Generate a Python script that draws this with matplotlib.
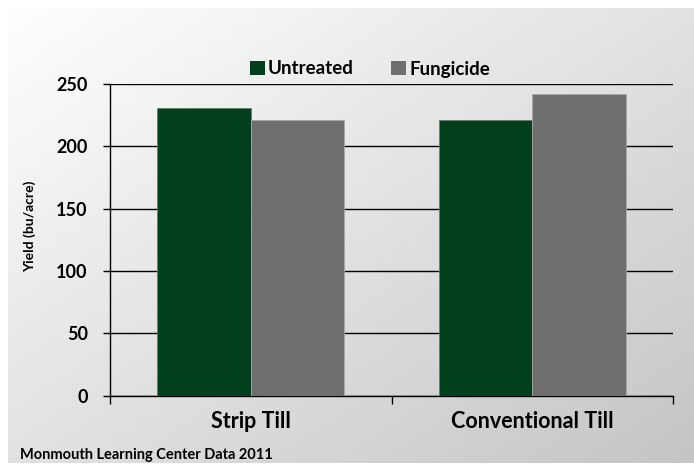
import numpy as np
import matplotlib
matplotlib.use("Agg")
import matplotlib.pyplot as plt
from matplotlib.patches import Patch

plt.rcParams['font.family'] = ['Lato', 'DejaVu Sans']
plt.rcParams['font.weight'] = 'bold'

categories = ['Strip Till', 'Conventional Till']
untreated = [231, 221]
fungicide = [221, 242]
series_names = ['Untreated', 'Fungicide']
yticks = [0, 50, 100, 150, 200, 250]

green = '#023f1d'
grey = '#6f6f6f'

fig = plt.figure(figsize=(6.94, 4.73), dpi=100)

# background gradient panel (white top-left to grey bottom-right)
bg = fig.add_axes([8 / 694, 10 / 473, 1 - 8 / 694, 455 / 473], zorder=0)
gx, gy = np.meshgrid(np.linspace(0, 1, 300), np.linspace(0, 1, 200))
shade = 255 - 58 * (gx + gy) / 2
img = np.dstack([shade, shade, shade]).astype(np.uint8)
bg.imshow(img, aspect='auto', extent=[0, 1, 0, 1], origin='upper')
bg.axis('off')

ax = fig.add_axes([110 / 694, 77.3 / 473, 563 / 694, 311.7 / 473], zorder=1)
ax.set_facecolor('none')

x = np.arange(len(categories))
w = 0.332
ax.bar(x - w / 2, untreated, w, color=green, edgecolor='#5e7f69', linewidth=0.6, zorder=3)
ax.bar(x + w / 2, fungicide, w, color=grey, edgecolor='#a8a8a8', linewidth=0.6, zorder=3)

ax.set_xlim(-0.5, 1.5)
ax.set_ylim(0, 250)
ax.set_yticks(yticks)
ax.set_yticklabels([str(t) for t in yticks], fontsize=13, fontweight='bold')
ax.yaxis.grid(True, color='black', linewidth=1.0, zorder=1)
ax.set_axisbelow(True)
ax.tick_params(axis='y', length=5, width=1, pad=11, color='black')

ax.set_xticks(x)
ax.set_xticklabels(categories, fontsize=15.5, fontweight='bold')
ax.set_xticks([-0.5, 0.5, 1.5], minor=True)
ax.tick_params(axis='x', which='major', length=0, pad=11)
ax.tick_params(axis='x', which='minor', length=6, width=1, color='black')

for s in ['top', 'right']:
    ax.spines[s].set_visible(False)
for s in ['left', 'bottom']:
    ax.spines[s].set_color('black')
    ax.spines[s].set_linewidth(1.0)

ax.set_ylabel('Yield (bu/acre)', fontsize=10, fontweight='bold')
ax.yaxis.set_label_coords(-0.131, 0.545)

handles = [Patch(facecolor=green), Patch(facecolor=grey)]
fig.legend(handles, series_names, loc='center', bbox_to_anchor=(370 / 694, 1 - 69 / 473),
           ncol=2, frameon=False, handlelength=0.8, handleheight=0.8,
           handletextpad=0.15, columnspacing=2.0, prop={'weight': 'bold', 'size': 13.5})

fig.text(20 / 694, 1 - 455 / 473, 'Monmouth Learning Center Data 2011', fontsize=10.5,
         fontweight='bold', va='center', ha='left')

fig.savefig('out.png', dpi=100)
